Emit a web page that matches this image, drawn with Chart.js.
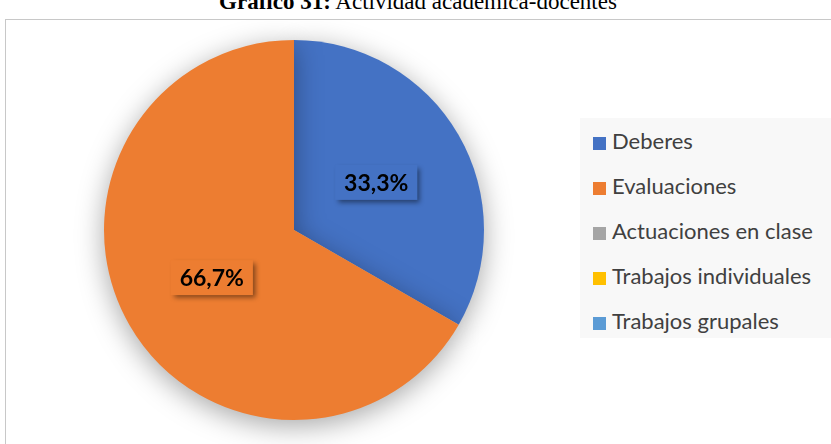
<!DOCTYPE html>
<html>
<head>
<meta charset="utf-8">
<script src="https://cdn.jsdelivr.net/npm/chart.js@4"></script>
<style>
    html, body { margin: 0; padding: 0; background: #fff; overflow: hidden; }
    body { width: 831px; height: 444px; position: relative; }
    #title {
        position: absolute; left: 0; width: 836px; top: -11px; text-align: center;
        font-family: "Liberation Serif", serif; font-size: 23px; color: #000; white-space: nowrap;
    }
    #frame {
        position: absolute; left: 5px; top: 19px; width: 840px; height: 440px;
        border: 1px solid #c8c8c8; box-sizing: border-box;
    }
    #wrap { position: absolute; left: 6px; top: 20px; width: 825px; height: 424px; }
    #legend {
        position: absolute; left: 580px; top: 118px; width: 260px; height: 220px;
        background: #f8f8f8; font-family: Lato, sans-serif; font-size: 22px; color: #404040;
    }
    .item { position: absolute; left: 13px; height: 26px; line-height: 26px; white-space: nowrap; }
    .box { display: inline-block; width: 13px; height: 13px; margin-right: 6px; vertical-align: -1px; }
</style>
</head>
<body>
<div id="title"><b>Gráfico 31:</b> Actividad académica-docentes</div>
<div id="frame"></div>
<div id="wrap"><canvas id="pie"></canvas></div>
<div id="legend"></div>
<script>
// Chart data
const categories = ['Deberes', 'Evaluaciones', 'Actuaciones en clase', 'Trabajos individuales', 'Trabajos grupales'];
const shares = [33.3, 66.7, 0, 0, 0];
const valueLabels = ['33,3%', '66,7%', '', '', ''];
const colors = ['#4472C4', '#ED7D31', '#A5A5A5', '#FFC000', '#5B9BD5'];

// Build legend
const legendEl = document.getElementById('legend');
categories.forEach((name, i) => {
    const row = document.createElement('div');
    row.className = 'item';
    row.style.top = (10 + i * 45) + 'px';
    row.innerHTML = `<span class="box" style="background:${colors[i]}"></span>${name}`;
    legendEl.appendChild(row);
});

// Soft shadow under the pie
const pieShadow = {
    id: 'pieShadow',
    beforeDatasetsDraw(chart) {
        const ctx = chart.ctx;
        ctx.save();
        ctx.shadowColor = 'rgba(0,0,0,0.35)';
        ctx.shadowBlur = 28;
        ctx.shadowOffsetY = 6;
    },
    afterDatasetsDraw(chart) {
        chart.ctx.restore();
    }
};

// Boxed value labels
const boxLabels = {
    id: 'boxLabels',
    afterDatasetsDraw(chart) {
        const ctx = chart.ctx;
        const meta = chart.getDatasetMeta(0);
        ctx.save();
        ctx.font = 'bold 23px Lato, sans-serif';
        ctx.textAlign = 'center';
        ctx.textBaseline = 'middle';
        meta.data.forEach((arc, i) => {
            if (!valueLabels[i]) return;
            const p = arc.getCenterPoint();
            const w = ctx.measureText(valueLabels[i]).width + 18;
            const h = 35;
            ctx.save();
            ctx.shadowColor = 'rgba(0,0,0,0.45)';
            ctx.shadowBlur = 5;
            ctx.shadowOffsetX = 3;
            ctx.shadowOffsetY = 3;
            ctx.fillStyle = colors[i];
            ctx.fillRect(p.x - w / 2, p.y - h / 2, w, h);
            ctx.restore();
            ctx.fillStyle = '#000';
            ctx.fillText(valueLabels[i], p.x, p.y + 1);
        });
        ctx.restore();
    }
};

new Chart(document.getElementById('pie'), {
    type: 'pie',
    data: {
        labels: categories,
        datasets: [{
            data: shares,
            backgroundColor: colors,
            borderWidth: 0
        }]
    },
    options: {
        responsive: true,
        maintainAspectRatio: false,
        animation: false,
        layout: { padding: { left: 98, right: 347, top: 20, bottom: 24 } },
        plugins: {
            legend: { display: false },
            tooltip: { enabled: false }
        }
    },
    plugins: [pieShadow, boxLabels]
});
</script>
</body>
</html>
